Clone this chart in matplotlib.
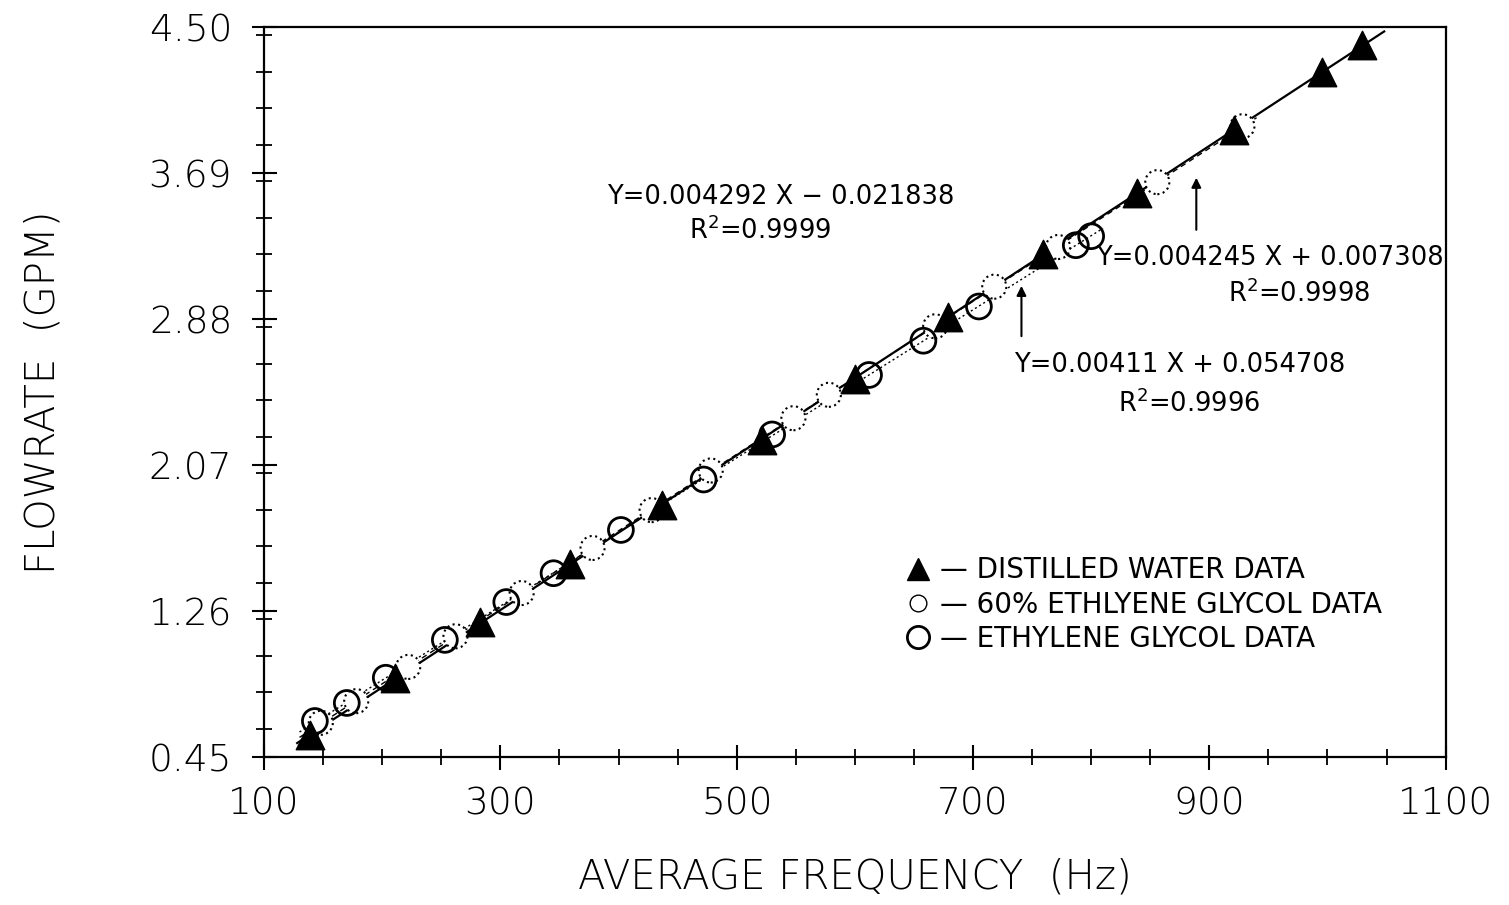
import numpy as np
import matplotlib
matplotlib.use('Agg')
import matplotlib.pyplot as plt
from matplotlib.ticker import MultipleLocator, FixedLocator
from matplotlib.lines import Line2D

plt.rcParams['font.family'] = ['DejaVu Sans']

# distilled water (filled triangles)
water_x = [139, 211, 283, 359, 437, 521, 600, 679, 759, 839, 921, 995, 1029]
water_y = [0.57, 0.89, 1.20, 1.52, 1.85, 2.21, 2.55, 2.89, 3.24, 3.58, 3.93, 4.25, 4.40]

# 60% ethylene glycol (dotted circles)
eg60_x = [148, 178, 222, 262, 318, 378, 428, 478, 548, 578, 668, 718, 772, 856, 928]
eg60_y = [0.64, 0.76, 0.95, 1.12, 1.36, 1.61, 1.82, 2.04, 2.33, 2.46, 2.84, 3.06, 3.28, 3.64, 3.95]

# ethylene glycol (open circles)
eg_x = [143, 170, 203, 253, 305, 345, 402, 472, 530, 612, 658, 705, 787, 800]
eg_y = [0.65, 0.75, 0.89, 1.10, 1.31, 1.47, 1.71, 1.99, 2.24, 2.57, 2.76, 2.95, 3.29, 3.34]

# fitted lines: slope, intercept, x-range
fit_water = (0.004292, -0.021838, 128, 1048)
fit_eg60 = (0.004245, 0.007308, 130, 940)
fit_eg = (0.00411, 0.054708, 130, 810)

y_ticks = [0.45, 1.26, 2.07, 2.88, 3.69, 4.50]
x_ticks = [100, 300, 500, 700, 900, 1100]

fig = plt.figure(figsize=(15.09, 9.05), dpi=100)
ax = fig.add_axes([0.175, 0.1635, 0.783, 0.8065])

# fit lines
for (m, b, x0, x1), ls, lw in [(fit_water, '-', 1.6), (fit_eg60, (0, (4, 3)), 1.0), (fit_eg, (0, (1.5, 2)), 1.0)]:
    xx = np.array([x0, x1])
    ax.plot(xx, m * xx + b, color='black', linestyle=ls, linewidth=lw, zorder=2)

ax.scatter(eg60_x, eg60_y, s=300, facecolors='white', edgecolors='black',
           linewidths=1.5, linestyles=':', zorder=3)
ax.scatter(eg_x, eg_y, s=320, facecolors='none', edgecolors='black',
           linewidths=2.0, zorder=4)
ax.scatter(water_x, water_y, s=420, marker='^', color='black', zorder=5)

ax.set_xlim(100, 1100)
ax.set_ylim(0.45, 4.50)
ax.xaxis.set_major_locator(FixedLocator(x_ticks))
ax.xaxis.set_minor_locator(MultipleLocator(50))
ax.yaxis.set_major_locator(FixedLocator(y_ticks))
ax.yaxis.set_minor_locator(MultipleLocator(0.2025))
ax.set_yticklabels(['%.2f' % v for v in y_ticks])

ax.tick_params(which='major', direction='inout', length=18, width=1.5, labelsize=27)
ax.tick_params(axis='y', which='major', pad=14)
ax.tick_params(axis='x', which='major', pad=12)
ax.tick_params(which='minor', direction='inout', length=11, width=1.3)
ax.tick_params(top=False, right=False)
for lab in ax.get_xticklabels() + ax.get_yticklabels():
    lab.set_fontweight('light')
for s in ax.spines.values():
    s.set_linewidth(1.6)

ax.set_xlabel('AVERAGE FREQUENCY  (Hz)', fontsize=29, labelpad=26, fontweight='light')
ax.set_ylabel('FLOWRATE  (GPM)', fontsize=29, labelpad=62, fontweight='light')

# equations
eq_fs = 18.5
ax.text(537, 3.557, 'Y=0.004292 X \u2212 0.021838', fontsize=eq_fs, ha='center', va='center')
ax.text(520, 3.37, 'R$^2$=0.9999', fontsize=eq_fs, ha='center', va='center')
ax.text(951, 3.22, 'Y=0.004245 X + 0.007308', fontsize=eq_fs, ha='center', va='center')
ax.text(976, 3.02, 'R$^2$=0.9998', fontsize=eq_fs, ha='center', va='center')
ax.text(875, 2.625, 'Y=0.00411 X + 0.054708', fontsize=eq_fs, ha='center', va='center')
ax.text(883, 2.41, 'R$^2$=0.9996', fontsize=eq_fs, ha='center', va='center')

arrow = dict(arrowstyle='-|>', color='black', lw=1.5, mutation_scale=14)
ax.annotate('', xy=(889, 3.68), xytext=(889, 3.36), arrowprops=arrow)
ax.annotate('', xy=(741, 3.08), xytext=(741, 2.77), arrowprops=arrow)

handles = [
    Line2D([], [], marker='^', color='black', linestyle='none', markersize=16),
    Line2D([], [], marker='o', markerfacecolor='white', markeredgecolor='black',
           markeredgewidth=1.0, linestyle=':', markersize=12),
    Line2D([], [], marker='o', markerfacecolor='white', markeredgecolor='black',
           markeredgewidth=2.0, linestyle='none', markersize=16),
]
handles[1].set_linestyle('none')
labels = ['\u2014 DISTILLED WATER DATA', '\u2014 60% ETHLYENE GLYCOL DATA', '\u2014 ETHYLENE GLYCOL DATA']
ax.legend(handles, labels, loc='upper left', bbox_to_anchor=(0.532, 0.29),
          frameon=False, fontsize=20, handletextpad=0.3, labelspacing=0.22,
          handlelength=1.0, borderaxespad=0)

fig.savefig('out.png', dpi=100)
